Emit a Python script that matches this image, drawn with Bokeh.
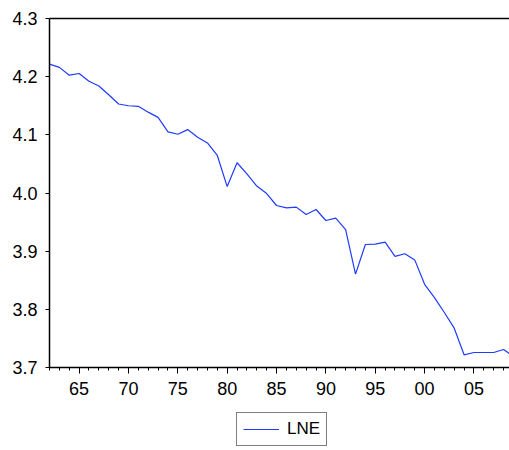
from bokeh.plotting import figure
from bokeh.layouts import column
from bokeh.models import (FixedTicker, Legend, LegendItem, LinearAxis, Range1d,
                          NumeralTickFormatter, ColumnDataSource)
from bokeh.embed import file_html
from bokeh.resources import INLINE

years = list(range(1962, 2010))
lne = [4.2215, 4.216, 4.2026, 4.2055, 4.192, 4.184, 4.169, 4.153, 4.150, 4.149,
       4.139, 4.130, 4.105, 4.101, 4.109, 4.096, 4.086, 4.0645, 4.011, 4.052,
       4.033, 4.012, 3.999, 3.9785, 3.9745, 3.9757, 3.963, 3.9716, 3.9527, 3.9567,
       3.937, 3.8605, 3.9115, 3.912, 3.9155, 3.891, 3.8955, 3.885, 3.843, 3.820,
       3.7946, 3.7676, 3.7218, 3.7258, 3.7258, 3.7258, 3.731, 3.719]
x_major = [1965, 1970, 1975, 1980, 1985, 1990, 1995, 2000, 2005]
x_labels = ["65", "70", "75", "80", "85", "90", "95", "00", "05"]
y_ticks = [3.7, 3.8, 3.9, 4.0, 4.1, 4.2, 4.3]
series_name = "LNE"

FONT = "Liberation Sans"
LINE_COLOR = "#1f3bff"

src = ColumnDataSource(data=dict(year=years, lne=lne))

p = figure(width=509, height=405, output_backend="svg", toolbar_location=None,
           x_range=Range1d(1962, 2008.6), y_range=Range1d(3.7, 4.3),
           min_border_left=49, min_border_right=0, min_border_top=18,
           min_border_bottom=38, background_fill_color="white",
           border_fill_color="white")
p.outline_line_color = None
p.grid.visible = False

r = p.line("year", "lne", source=src, line_color=LINE_COLOR, line_width=1.2)

# x axis
xa = p.xaxis[0]
xa.ticker = FixedTicker(ticks=x_major, minor_ticks=years)
xa.major_label_overrides = {y: l for y, l in zip(x_major, x_labels)}
xa.major_tick_out = 6
xa.major_tick_in = 0
xa.minor_tick_out = 3
xa.minor_tick_in = 0
xa.major_label_standoff = 8
xa.axis_line_width = 1.5
xa.axis_line_color = "black"
xa.major_tick_line_color = "black"
xa.minor_tick_line_color = "black"
xa.major_label_text_font = FONT
xa.major_label_text_font_size = "18px"
xa.major_label_text_color = "black"

# y axis
ya = p.yaxis[0]
ya.ticker = FixedTicker(ticks=y_ticks, minor_ticks=[])
ya.formatter = NumeralTickFormatter(format="0.0")
ya.major_tick_out = 4
ya.major_tick_in = 0
ya.minor_tick_line_color = None
ya.major_label_standoff = 8
ya.axis_line_width = 1.5
ya.axis_line_color = "black"
ya.major_tick_line_color = "black"
ya.major_label_text_font = FONT
ya.major_label_text_font_size = "18px"
ya.major_label_text_color = "black"

# top border
top = LinearAxis(ticker=FixedTicker(ticks=[]), axis_line_color="black",
                 axis_line_width=1.5, major_tick_line_color=None,
                 minor_tick_line_color=None, major_label_text_font_size="0px",
                 major_label_standoff=0)
p.add_layout(top, "above")

# legend strip below the chart (its line lies outside the strip's view)
q = figure(width=509, height=45, output_backend="svg", toolbar_location=None,
           x_range=Range1d(0, 1), y_range=Range1d(0, 1),
           x_axis_location=None, y_axis_location=None,
           min_border_left=0, min_border_right=0, min_border_top=0,
           min_border_bottom=0, background_fill_color="white",
           border_fill_color="white")
q.grid.visible = False
q.outline_line_color = None
key = q.line("year", "lne", source=src, line_color=LINE_COLOR, line_width=1.2)

legend = Legend(items=[LegendItem(label=series_name, renderers=[key])],
                location=(187, 4), orientation="horizontal",
                border_line_color="black", border_line_width=1,
                label_text_font=FONT, label_text_font_size="17px",
                label_text_color="black", glyph_width=36, glyph_height=14,
                label_standoff=8, padding=6, margin=0, spacing=0,
                background_fill_alpha=1.0)
q.add_layout(legend, "center")

layout = column(p, q, spacing=0)
open("out.html", "w").write(file_html(layout, INLINE))
